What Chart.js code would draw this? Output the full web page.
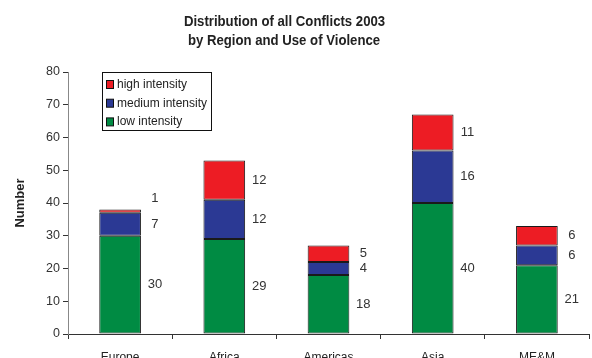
<!DOCTYPE html>
<html><head><meta charset="utf-8">
<script src="https://cdn.jsdelivr.net/npm/chart.js@4/dist/chart.umd.min.js"></script>
<style>html,body{margin:0;padding:0;overflow:hidden;background:#fff}#wrap{width:592px;height:372px}</style>
</head><body><div id="wrap"><canvas id="c" width="592" height="372"></canvas></div>
<script>
const categories = ['Europe', 'Africa', 'Americas', 'Asia', 'ME&M'];
const lowIntensity = [30, 29, 18, 40, 21];
const mediumIntensity = [7, 12, 4, 16, 6];
const highIntensity = [1, 12, 5, 11, 6];
const yTickValues = [0, 10, 20, 30, 40, 50, 60, 70, 80];
const titleLines = ['Distribution of all Conflicts 2003', 'by Region and Use of Violence'];
const yAxisTitle = 'Number';
const seriesNames = ['low intensity', 'medium intensity', 'high intensity'];
const seriesColors = ['#008b43', '#2b3994', '#ed1c24'];

const FONT = "'Liberation Sans', Arial, sans-serif";

const titlePlugin = {
  id: 'twoLineTitle',
  afterDraw(chart) {
    const ctx = chart.ctx;
    ctx.save();
    ctx.fillStyle = '#222';
    ctx.font = 'bold 15px ' + FONT;
    ctx.textAlign = 'center';
    ctx.textBaseline = 'alphabetic';
    const sx = 0.878;
    ctx.scale(sx, 1);
    ctx.fillText(titleLines[0], 284.5 / sx, 25.5);
    ctx.fillText(titleLines[1], 284 / sx, 45);
    ctx.restore();
  }
};

const legendPlugin = {
  id: 'boxLegend',
  afterDraw(chart) {
    const ctx = chart.ctx;
    const a = chart.chartArea;
    const left = a.left + 34.5, top = a.top + 0.5, w = 109, h = 58;
    ctx.save();
    ctx.fillStyle = '#fff';
    ctx.fillRect(left, top, w, h);
    ctx.strokeStyle = '#111';
    ctx.lineWidth = 1;
    ctx.strokeRect(left, top, w, h);
    ctx.font = '12px ' + FONT;
    ctx.textBaseline = 'middle';
    ctx.textAlign = 'left';
    const order = chart.data.datasets.map((d, i) => i).reverse();
    order.forEach((di, row) => {
      const ds = chart.data.datasets[di];
      const cy = top + 12 + row * 18.7;
      ctx.fillStyle = ds.backgroundColor;
      ctx.fillRect(left + 4, cy - 4, 7, 8);
      ctx.strokeStyle = '#111';
      ctx.strokeRect(left + 4, cy - 4, 7, 8);
      ctx.fillStyle = '#222';
      ctx.fillText(ds.label, left + 14.5, cy);
    });
    ctx.restore();
  }
};

const valueLabelPlugin = {
  id: 'valueLabels',
  afterDatasetsDraw(chart) {
    const ctx = chart.ctx;
    ctx.save();
    ctx.font = '13px ' + FONT;
    ctx.fillStyle = '#333';
    ctx.textAlign = 'center';
    ctx.textBaseline = 'middle';
    chart.data.datasets.forEach((ds, di) => {
      const meta = chart.getDatasetMeta(di);
      meta.data.forEach((bar, i) => {
        const v = ds.data[i];
        const hgt = Math.abs(bar.base - bar.y);
        const x = bar.x + bar.width / 2 + 14;
        let y = (bar.y + bar.base) / 2;
        if (hgt < 8) y = bar.y - 11;
        ctx.fillText(String(v), x, y);
      });
    });
    ctx.restore();
  }
};

const datasets = [lowIntensity, mediumIntensity, highIntensity].map((d, i) => ({
  label: seriesNames[i],
  data: d,
  backgroundColor: seriesColors[i],
  borderColor: '#1a1a1a',
  borderWidth: 1,
  borderSkipped: false,
  barPercentage: 0.4,
  categoryPercentage: 1.0
}));

new Chart(document.getElementById('c'), {
  type: 'bar',
  data: { labels: categories, datasets },
  plugins: [titlePlugin, legendPlugin, valueLabelPlugin],
  options: {
    responsive: false,
    animation: false,
    devicePixelRatio: 1,
    layout: { padding: { top: 72, right: 3, left: 0, bottom: 0 } },
    plugins: { legend: { display: false }, title: { display: false }, tooltip: { enabled: false } },
    scales: {
      x: {
        stacked: true,
        offset: true,
        grid: { display: true, offset: true, drawOnChartArea: false, drawTicks: true, tickLength: 5, color: '#333' },
        border: { display: true, color: '#333' },
        ticks: { font: { size: 12, family: FONT }, color: '#222', padding: 11, maxRotation: 0, autoSkip: false },
        afterFit(s) { s.height = 38; }
      },
      y: {
        stacked: true,
        min: 0, max: 80,
        afterBuildTicks(s) { s.ticks = yTickValues.map(v => ({ value: v })); },
        grid: { display: true, drawOnChartArea: false, drawTicks: true, tickLength: 5, color: '#333' },
        border: { display: true, color: '#888' },
        ticks: { font: { size: 12.5, family: FONT }, color: '#333', padding: 3 },
        title: { display: true, text: yAxisTitle, font: { size: 13, weight: 'bold', family: FONT }, color: '#222', padding: { top: 13, bottom: 0 } },
        afterFit(s) { s.width = 68; }
      }
    }
  }
});
</script></body></html>
